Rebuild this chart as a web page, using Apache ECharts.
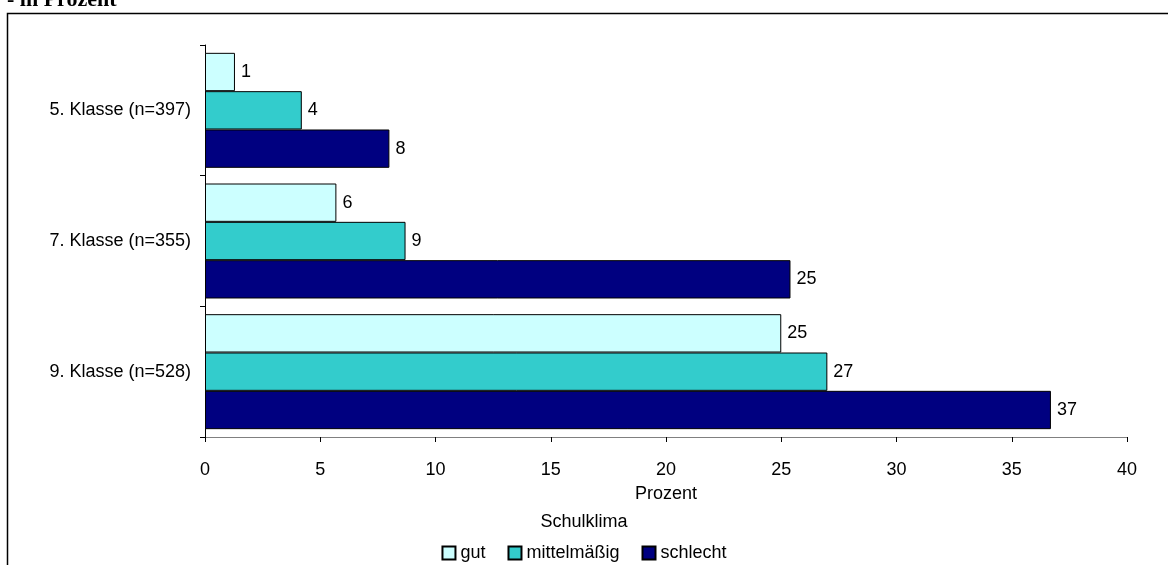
<!DOCTYPE html>
<html><head><meta charset="utf-8">
<script src="https://cdn.jsdelivr.net/npm/echarts@6/dist/echarts.min.js"></script>
<style>html,body{margin:0;padding:0;background:#fff}#c{width:1168px;height:565px}</style>
</head><body><div id="c"></div>
<script>
const categories = ['5. Klasse (n=397)', '7. Klasse (n=355)', '9. Klasse (n=528)'];
const seriesNames = ['gut', 'mittelmäßig', 'schlecht'];
const gut = [1.3, 5.7, 25.0];
const mittel = [4.2, 8.7, 27.0];
const schlecht = [8.0, 25.4, 36.7];
const colors = ['#CCFFFF', '#33CCCC', '#000080'];
const xTicks = [0, 5, 10, 15, 20, 25, 30, 35, 40];

const chart = echarts.init(document.getElementById('c'), null, {renderer: 'canvas'});
const font = 'Liberation Sans, Arial, sans-serif';
const fs = 18;
const mk = (name, data, i) => ({
  name, type: 'bar', data,
  barGap: '0%', barCategoryGap: '12%',
  itemStyle: {color: colors[i], borderColor: '#000', borderWidth: 1},
  label: {show: true, position: 'right', distance: 6, color: '#000', fontFamily: font, fontSize: fs,
    formatter: p => Math.round(p.value)},
  animation: false
});
chart.setOption({
  animation: false,
  graphic: [
    {type: 'rect', shape: {x: 7.5, y: 13.5, width: 1200, height: 600}, style: {fill: 'none', stroke: '#000', lineWidth: 1.5}},
    {type: 'text', left: 7, top: -11, style: {text: '- in Prozent', font: 'bold 22px "Liberation Serif", serif', fill: '#000'}},
    {type: 'text', left: 'center', top: 513, style: {text: 'Schulklima', font: fs + 'px ' + font, fill: '#000'}}
  ],
  grid: {left: 205, right: 41, top: 45, bottom: 128, containLabel: false},
  legend: {data: seriesNames, top: 539, left: 'center', itemWidth: 13, itemHeight: 13, itemGap: 22,
    icon: 'rect', textStyle: {fontFamily: font, fontSize: fs, color: '#000'}},
  xAxis: {type: 'value', min: 0, max: 40, interval: 5,
    name: 'Prozent', nameLocation: 'middle', nameGap: 48,
    nameTextStyle: {fontFamily: font, fontSize: fs, color: '#000'},
    axisLine: {show: true, lineStyle: {color: '#808080'}},
    axisTick: {show: true, length: 5, lineStyle: {color: '#000'}},
    axisLabel: {color: '#000', fontFamily: font, fontSize: fs, margin: 24,
      formatter: v => xTicks.includes(v) ? String(v) : ''},
    splitLine: {show: false}},
  yAxis: {type: 'category', data: categories, inverse: true,
    axisLine: {show: true, lineStyle: {color: '#000'}},
    axisTick: {show: true, length: 5, lineStyle: {color: '#000'}},
    axisLabel: {color: '#000', fontFamily: font, fontSize: fs, margin: 14}},
  series: [mk(seriesNames[0], gut, 0), mk(seriesNames[1], mittel, 1), mk(seriesNames[2], schlecht, 2)]
});
</script></body></html>
